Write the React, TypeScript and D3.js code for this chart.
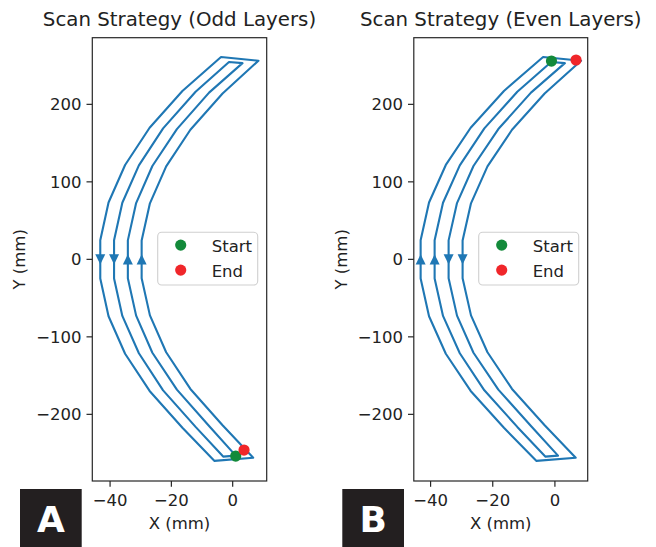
import React from 'react';
import * as d3 from 'd3';

type Pt = [number, number];

// Axis ticks
const xTicks = [-40, -20, 0];
const yTicks = [-200, -100, 0, 100, 200];

// Four parallel contour tracks of the scan path, listed top → bottom (x mm, y mm)
const track1: Pt[] = [
  [-3.8, 261], [-16.4, 217.3], [-27.1, 169.8], [-35.1, 121.8], [-40.5, 73.4], [-43.2, 24.7],
  [-43.2, -24.7], [-40.5, -73.4], [-35.1, -121.8], [-27.1, -169.8], [-16.4, -217.3], [-6.0, -260],
];
const track2: Pt[] = [
  [-1.2, 254.6], [-12.1, 216.2], [-22.7, 169.0], [-30.6, 121.2], [-36.0, 73.0], [-38.7, 24.6],
  [-38.7, -24.6], [-36.0, -73.0], [-30.6, -121.2], [-22.7, -169.0], [-12.1, -216.2], [-3.1, -254.5],
];
const track3: Pt[] = [
  [3.2, 253.2], [-7.7, 215.1], [-18.2, 168.1], [-26.2, 120.5], [-31.5, 72.6], [-34.2, 24.5],
  [-34.2, -24.5], [-31.5, -72.6], [-26.2, -120.5], [-18.2, -168.1], [-7.7, -215.1], [1.0, -253.3],
];
const track4: Pt[] = [
  [8.4, 256.3], [-3.3, 214.0], [-13.8, 167.2], [-21.7, 119.9], [-27.0, 72.3], [-29.7, 24.4],
  [-29.7, -24.4], [-27.0, -72.3], [-21.7, -119.9], [-13.8, -167.2], [-3.3, -214.0], [6.7, -256],
];
const tracks = [track1, track2, track3, track4];

// Travel direction on each track at y = 0
const oddDirections = ['down', 'down', 'up', 'up'];
const evenDirections = ['up', 'up', 'down', 'down'];

// Start / end points of each layer
const oddStart: Pt = [1.0, -253.8];
const oddEnd: Pt = [3.7, -246.1];
const evenStart: Pt = [-1.1, 255.9];
const evenEnd: Pt = [6.8, 257.2];

const legendLabels = ['Start', 'End'];

const BLUE = '#1f77b4';
const GREEN = '#138a3a';
const RED = '#f0262a';
const INK = '#222';
const FONT = 'DejaVu Sans, sans-serif';

interface PanelProps {
  title: string;
  tag: string;
  directions: string[];
  start: Pt;
  end: Pt;
  xDomain: [number, number];
  left: number;
  right: number;
  tagX: number;
}

const TOP = 37.7;
const BOTTOM = 481;

function Panel({ title, tag, directions, start, end, xDomain, left, right, tagX }: PanelProps) {
  const x = d3.scaleLinear().domain(xDomain).range([left, right]);
  const y = d3.scaleLinear().domain([-286, 286]).range([BOTTOM, TOP]);
  const line = d3.line<Pt>().x((d) => x(d[0])).y((d) => y(d[1]));

  const outer = line([...track1, ...track4.slice().reverse()]) + 'Z';
  const inner = line([...track2, ...track3.slice().reverse()]) + 'Z';

  const cx = (left + right) / 2;
  const fmt = d3.format('d');

  const legW = 100;
  const legX = right - 9 - legW;
  const legY = 232.3;
  const legColors = [GREEN, RED];

  return (
    <g>
      <text x={cx} y={26} textAnchor="middle" fontSize={19.8} fill={INK} fontFamily={FONT}>
        {title}
      </text>

      <path d={outer} fill="none" stroke={BLUE} strokeWidth={2.1} strokeLinejoin="round" />
      <path d={inner} fill="none" stroke={BLUE} strokeWidth={2.1} strokeLinejoin="round" />

      {tracks.map((t, i) => {
        const mid = (t[5][0] + t[6][0]) / 2;
        const px = x(mid);
        const py = y(0);
        const h = 5.2;
        const w = 5;
        const d =
          directions[i] === 'down'
            ? `M${px - w},${py - h}L${px + w},${py - h}L${px},${py + h}Z`
            : `M${px - w},${py + h}L${px + w},${py + h}L${px},${py - h}Z`;
        return <path key={i} d={d} fill={BLUE} />;
      })}

      <circle cx={x(start[0])} cy={y(start[1])} r={5.6} fill={GREEN} />
      <circle cx={x(end[0])} cy={y(end[1])} r={5.6} fill={RED} />

      {/* frame */}
      <rect x={left} y={TOP} width={right - left} height={BOTTOM - TOP} fill="none" stroke="#262626" strokeWidth={1.2} />

      {/* x axis */}
      {xTicks.map((t) => (
        <g key={t}>
          <line x1={x(t)} x2={x(t)} y1={BOTTOM} y2={BOTTOM + 5.8} stroke="#262626" strokeWidth={1.2} />
          <text x={x(t)} y={506} textAnchor="middle" fontSize={16.5} fill={INK} fontFamily={FONT}>
            {fmt(t)}
          </text>
        </g>
      ))}
      <text x={cx} y={528.5} textAnchor="middle" fontSize={16.5} fill={INK} fontFamily={FONT}>
        X (mm)
      </text>

      {/* y axis */}
      {yTicks.map((t) => (
        <g key={t}>
          <line x1={left - 5.8} x2={left} y1={y(t)} y2={y(t)} stroke="#262626" strokeWidth={1.2} />
          <text x={left - 10.8} y={y(t) + 6} textAnchor="end" fontSize={16.5} fill={INK} fontFamily={FONT}>
            {fmt(t)}
          </text>
        </g>
      ))}
      <text
        transform={`translate(${left - 67}, ${(TOP + BOTTOM) / 2}) rotate(-90)`}
        textAnchor="middle"
        fontSize={16.5}
        fill={INK}
        fontFamily={FONT}
      >
        Y (mm)
      </text>

      {/* legend */}
      <rect x={legX} y={legY} width={legW} height={52.7} rx={4} fill="white" fillOpacity={0.85} stroke="#d0d0d0" strokeWidth={1.1} />
      {legendLabels.map((lab, i) => (
        <g key={lab}>
          <circle cx={legX + 23} cy={legY + 12.8 + i * 25} r={5.6} fill={legColors[i]} />
          <text x={legX + 54} y={legY + 19.2 + i * 25} fontSize={16.5} fill={INK} fontFamily={FONT}>
            {lab}
          </text>
        </g>
      ))}

      {/* panel tag */}
      <rect x={tagX} y={489} width={61.7} height={58} fill="#231f20" />
      <text x={tagX + 31} y={531.7} textAnchor="middle" fontSize={36} fontWeight="bold" fill="white" fontFamily={FONT}>
        {tag}
      </text>
    </g>
  );
}

export default function App() {
  return (
    <svg
      width={656}
      height={547}
      viewBox="0 0 656 547"
      style={{ position: 'fixed', left: 0, top: 0, background: 'white' }}
    >
      <rect width={656} height={547} fill="white" />
      <Panel
        title="Scan Strategy (Odd Layers)"
        tag="A"
        directions={oddDirections}
        start={oddStart}
        end={oddEnd}
        xDomain={[-45.8, 11.1]}
        left={92.3}
        right={266.7}
        tagX={20}
      />
      <Panel
        title="Scan Strategy (Even Layers)"
        tag="B"
        directions={evenDirections}
        start={evenStart}
        end={evenEnd}
        xDomain={[-45.4, 10.55]}
        left={413.8}
        right={587.7}
        tagX={342.3}
      />
    </svg>
  );
}
